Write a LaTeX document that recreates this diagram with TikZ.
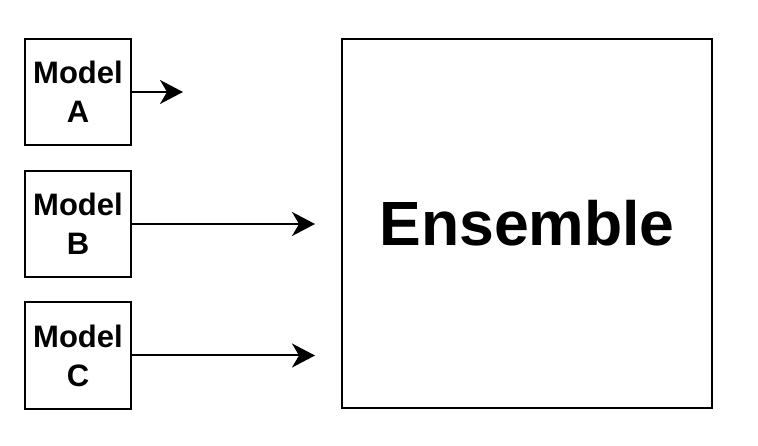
\documentclass[tikz,border=0pt]{standalone}
\usepackage{fontspec}
\setmainfont{Liberation Sans}
\usetikzlibrary{arrows.meta}
\tikzset{
  modelbox/.style={draw, line width=2pt, minimum width=106pt, minimum height=106pt,
    inner sep=0pt, align=center, font=\bfseries\fontsize{31}{39}\selectfont},
  ensbox/.style={draw, line width=2pt, minimum width=370pt, minimum height=369pt,
    inner sep=0pt, font=\bfseries\fontsize{62.5}{70}\selectfont},
  conn/.style={line width=2pt, -{Stealth[length=23pt,width=24pt,inset=7pt]}}
}
\begin{document}
\begin{tikzpicture}[x=1pt,y=-1pt]
\useasboundingbox[fill=white] (0,0) rectangle (758,446);
\node[modelbox] (a) at (78,92) {Model\\A};
\node[modelbox] (b) at (78,224) {Model\\B};
\node[modelbox] (c) at (78,355.5) {Model\\C};
\node[ensbox] (e) at (527,223.5) {Ensemble};
\coordinate (ta) at (183,92);
\coordinate (tb) at (315,224);
\coordinate (tc) at (315,355.5);
\draw[conn] (a.east) -- (ta);
\draw[conn] (b.east) -- (tb);
\draw[conn] (c.east) -- (tc);
\end{tikzpicture}
\end{document}
